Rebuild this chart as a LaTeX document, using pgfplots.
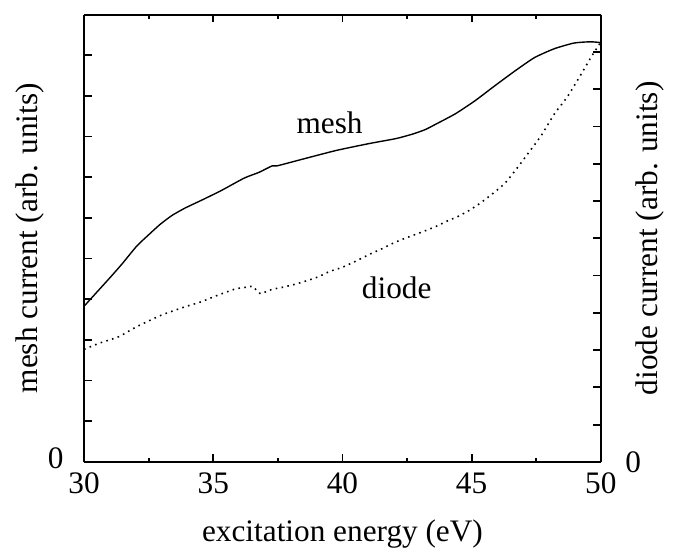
\documentclass[border=0pt]{standalone}
\usepackage{fontspec}
\setmainfont{Liberation Serif}
\usepackage{pgfplots}
\pgfplotsset{compat=1.18}

\pgfplotstableread{
x      y
30.00  3.83
30.50  4.18
31.00  4.53
31.47  4.87
32.04  5.31
32.49  5.58
32.94  5.84
33.40  6.06
33.90  6.24
34.53  6.43
35.30  6.67
36.20  6.98
36.77  7.12
37.28  7.28
37.47  7.28
38.49  7.45
39.77  7.66
41.05  7.83
42.07  7.95
42.71  8.06
43.20  8.17
43.60  8.30
44.37  8.56
45.13  8.88
45.90  9.25
46.67  9.61
47.43  9.94
48.20  10.16
48.97  10.30
49.60  10.33
50.00  10.31
}\meshdata

\pgfplotstableread{
x      y
30.00  3.02
30.57  3.18
31.34  3.36
32.04  3.63
33.00  3.94
33.90  4.16
34.51  4.29
35.17  4.47
35.85  4.64
36.32  4.69
36.54  4.71
36.67  4.60
36.83  4.51
37.05  4.57
37.28  4.63
37.72  4.69
38.19  4.77
38.62  4.86
39.08  4.97
39.51  5.11
39.99  5.22
40.50  5.38
41.05  5.57
41.50  5.71
42.00  5.88
42.50  6.02
42.90  6.12
43.60  6.31
44.05  6.46
44.49  6.59
44.94  6.76
45.39  6.97
45.84  7.21
46.28  7.47
46.67  7.80
47.18  8.27
47.69  8.75
48.20  9.33
48.72  9.81
49.23  10.39
49.60  10.83
49.82  11.07
50.00  11.26
}\diodedata

\pgfplotsset{
  common/.style={
    scale only axis, width=261pt, height=226pt,
    xmin=30, xmax=50,
    tick align=inside,
    major tick length=4pt, minor tick length=2pt,
    every tick/.style={black, line width=0.9pt},
    axis line style={line width=1pt},
    /pgf/number format/assume math mode=true,
  },
}

\begin{document}
\fontsize{15.8}{19}\selectfont
\begin{tikzpicture}
\begin{axis}[common,
    name=main,
    ymin=0, ymax=11,
    axis y line*=left,
    xtick={30,35,...,50}, minor x tick num=1,
    ytick={0,1,...,11},
    yticklabels={0,,,,,,,,,,,},
    yticklabel style={xshift=-5pt, yshift=2pt},
    xlabel={excitation energy (eV)},
    xlabel style={at={(axis description cs:0.5,-0.162)}, anchor=center},
    ylabel={mesh current (arb. units)},
    ylabel style={at={(axis description cs:-0.105,0.5)}, anchor=center},
    clip=false,
]
\addplot[black, line width=0.7pt, smooth, tension=0.35] table[x=x, y=y] {\meshdata};
\node at (axis cs:39.5,8.35) {mesh};
\node at (axis cs:42.1,4.28) {diode};
\end{axis}
\begin{axis}[common,
    ymin=0, ymax=12,
    axis y line*=right,
    axis x line=none,
    ytick={0,1,...,12},
    yticklabels={0,,,,,,,,,,,,},
    yticklabel style={xshift=7pt},
    ylabel={diode current (arb. units)},
    ylabel style={at={(axis description cs:1.096,0.5)}, anchor=center},
]
\addplot[black, line width=0.8pt, dash pattern=on 0.8pt off 2.2pt, smooth, tension=0.35] table[x=x, y=y] {\diodedata};
\end{axis}
\path (main.south west) ++(-42.5pt,-41.65pt) rectangle ++(337.5pt,275pt);
\end{tikzpicture}
\end{document}
